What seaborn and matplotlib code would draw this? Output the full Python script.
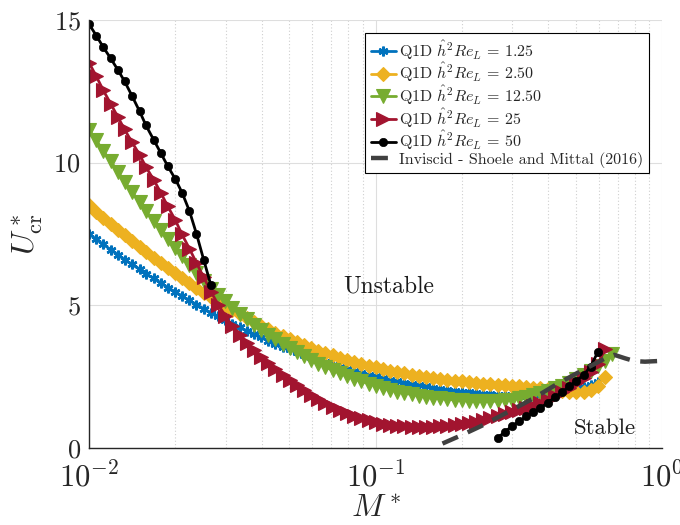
import matplotlib
matplotlib.use("Agg")
import matplotlib.pyplot as plt
import seaborn as sns
from matplotlib.ticker import LogLocator, FixedLocator

sns.set_theme(style="white")
plt.rcParams["font.family"] = ["cmr10", "DejaVu Serif"]
plt.rcParams["mathtext.fontset"] = "cm"
plt.rcParams["axes.formatter.use_mathtext"] = True

# mass ratio grid shared by the Q1D curves
m_star = [0.0100, 0.0106, 0.0112, 0.0119, 0.0126, 0.0133, 0.0141, 0.0150, 0.0158, 0.0168,
          0.0178, 0.0188, 0.0200, 0.0211, 0.0224, 0.0237, 0.0251, 0.0266, 0.0282, 0.0299,
          0.0316, 0.0335, 0.0355, 0.0376, 0.0398, 0.0422, 0.0447, 0.0473, 0.0501, 0.0531,
          0.0562, 0.0596, 0.0631, 0.0668, 0.0708, 0.0750, 0.0794, 0.0841, 0.0891, 0.0944,
          0.1000, 0.1059, 0.1122, 0.1189, 0.1259, 0.1334, 0.1413, 0.1496, 0.1585, 0.1679,
          0.1778, 0.1884, 0.1995, 0.2113, 0.2239, 0.2371, 0.2512, 0.2661, 0.2818, 0.2985,
          0.3162, 0.3350, 0.3548, 0.3758, 0.3981, 0.4217, 0.4467, 0.4732, 0.5012, 0.5309,
          0.5623, 0.5957, 0.6310, 0.6683]

u_125 = [7.50, 7.31, 7.13, 6.95, 6.77, 6.60, 6.43, 6.26, 6.10, 5.94,
         5.78, 5.62, 5.47, 5.32, 5.17, 5.02, 4.88, 4.74, 4.61, 4.48,
         4.35, 4.22, 4.10, 3.98, 3.87, 3.76, 3.65, 3.55, 3.45, 3.35,
         3.26, 3.17, 3.08, 3.00, 2.92, 2.84, 2.77, 2.70, 2.63, 2.57,
         2.51, 2.45, 2.39, 2.34, 2.29, 2.24, 2.19, 2.15, 2.11, 2.07,
         2.03, 2.00, 1.97, 1.94, 1.91, 1.89, 1.87, 1.85, 1.84, 1.83,
         1.83, 1.83, 1.84, 1.86, 1.88, 1.91, 1.95, 2.00, 2.06, 2.13,
         2.21, 2.30]

u_250 = [8.50, 8.28, 8.07, 7.86, 7.65, 7.45, 7.25, 7.05, 6.86, 6.67,
         6.48, 6.30, 6.12, 5.94, 5.77, 5.60, 5.44, 5.28, 5.12, 4.97,
         4.82, 4.68, 4.54, 4.41, 4.28, 4.16, 4.04, 3.92, 3.81, 3.70,
         3.60, 3.50, 3.41, 3.32, 3.24, 3.16, 3.08, 3.01, 2.94, 2.88,
         2.82, 2.76, 2.71, 2.66, 2.61, 2.57, 2.53, 2.49, 2.45, 2.42,
         2.39, 2.36, 2.33, 2.30, 2.27, 2.25, 2.23, 2.21, 2.19, 2.17,
         2.15, 2.13, 2.11, 2.08, 2.05, 2.02, 1.99, 1.96, 1.94, 1.95,
         2.02, 2.18, 2.48]

u_1250 = [11.15, 10.78, 10.41, 10.05, 9.68, 9.32, 8.97, 8.63, 8.29, 7.96,
          7.64, 7.32, 7.01, 6.71, 6.41, 6.12, 5.84, 5.57, 5.36, 5.13,
          4.91, 4.70, 4.50, 4.31, 4.13, 3.96, 3.80, 3.64, 3.49, 3.35,
          3.21, 3.08, 2.95, 2.83, 2.72, 2.61, 2.51, 2.42, 2.33, 2.25,
          2.17, 2.10, 2.03, 1.97, 1.92, 1.87, 1.83, 1.79, 1.76, 1.73,
          1.70, 1.68, 1.66, 1.65, 1.64, 1.63, 1.63, 1.64, 1.66, 1.69,
          1.73, 1.78, 1.84, 1.91, 1.99, 2.08, 2.18, 2.29, 2.41, 2.55,
          2.70, 2.87, 3.06, 3.30]

u_25 = [13.50, 13.02, 12.54, 12.06, 11.60, 11.16, 10.72, 10.28, 9.84, 9.40,
        8.94, 8.47, 7.98, 7.48, 6.98, 6.48, 5.98, 5.48, 5.02, 4.62,
        4.28, 3.97, 3.69, 3.43, 3.19, 2.97, 2.76, 2.56, 2.37, 2.19,
        2.02, 1.86, 1.71, 1.57, 1.44, 1.32, 1.21, 1.11, 1.03, 0.96,
        0.90, 0.85, 0.81, 0.78, 0.76, 0.74, 0.73, 0.73, 0.74, 0.75,
        0.77, 0.80, 0.83, 0.87, 0.92, 0.98, 1.04, 1.11, 1.17, 1.24,
        1.31, 1.39, 1.48, 1.58, 1.69, 1.81, 1.95, 2.10, 2.26, 2.44,
        2.66, 2.95, 3.45]

# Re=50 has two branches
u_50_low_m = [14.85, 14.45, 14.05, 13.65, 13.25, 12.85, 12.35, 11.80, 11.30, 10.80,
              10.33, 9.88, 9.42, 8.95, 8.30, 7.50, 6.60, 5.71]
m_50_high = m_star[57:72]
u_50_high_m = [0.35, 0.55, 0.76, 0.93, 1.10, 1.25, 1.40, 1.58, 1.77, 1.95,
               2.15, 2.35, 2.55, 2.85, 3.36]

# inviscid reference curve
m_inv = [0.171, 0.20, 0.234, 0.28, 0.35, 0.42, 0.50, 0.575, 0.63, 0.68, 0.74, 0.80, 0.87, 1.0]
u_inv = [0.15, 0.45, 0.77, 1.18, 1.70, 2.18, 2.60, 2.92, 3.13, 3.26, 3.14, 3.04, 3.02, 3.05]

labels = [r"Q1D $\hat{h}^2Re_L\,=\,1.25$", r"Q1D $\hat{h}^2Re_L\,=\,2.50$",
          r"Q1D $\hat{h}^2Re_L\,=\,12.50$", r"Q1D $\hat{h}^2Re_L\,=\,25$",
          r"Q1D $\hat{h}^2Re_L\,=\,50$"]

fig, ax = plt.subplots(figsize=(6.8, 5.25), dpi=100)
fig.subplots_adjust(left=0.131, right=0.974, bottom=0.147, top=0.962)

common = dict(ax=ax, sort=False, estimator=None, lw=2)
sns.lineplot(x=m_star[:len(u_125)], y=u_125, color="#0072BD", marker=(6, 2, 0),
             markersize=7, mew=1.8, mec="#0072BD", label=labels[0], **common)
sns.lineplot(x=m_star[:len(u_250)], y=u_250, color="#EDB120", marker="D",
             markersize=7.5, mew=0.8, mec="#EDB120", label=labels[1], **common)
sns.lineplot(x=m_star[:len(u_1250)], y=u_1250, color="#77AC30", marker="v",
             markersize=9.5, mew=0.8, mec="#77AC30", label=labels[2], **common)
sns.lineplot(x=m_star[:len(u_25)], y=u_25, color="#A2142F", marker=">",
             markersize=9.5, mew=0.8, mec="#A2142F", label=labels[3], **common)
sns.lineplot(x=m_star[:len(u_50_low_m)], y=u_50_low_m, color="black", marker="o",
             markersize=6, mew=0.5, mec="black", label=labels[4], **common)
sns.lineplot(x=m_50_high, y=u_50_high_m, color="black", marker="o",
             markersize=6, mew=0.5, mec="black", label="_nolegend_", **common)
sns.lineplot(x=m_inv, y=u_inv, ax=ax, sort=False, estimator=None, color="#404040",
             lw=3.2, dashes=False, label="Inviscid - Shoele and Mittal (2016)")
ax.lines[-1].set_dashes((3.8, 2.4))
ax.lines[-1].set_zorder(5)

ax.set_xscale("log")
ax.set_xlim(0.01, 1.0)
ax.set_ylim(0, 15)
ax.xaxis.set_major_locator(FixedLocator([0.01, 0.1, 1.0]))
ax.xaxis.set_minor_locator(LogLocator(base=10, subs=range(2, 10)))
ax.set_yticks([0, 5, 10, 15])

ax.grid(True, which="major", color="#dedede", lw=0.8, ls="-")
ax.grid(True, which="minor", axis="x", color="#cfcfcf", lw=0.8, ls=(0, (1, 2)))
ax.set_axisbelow(True)
for side in ["top", "right"]:
    ax.spines[side].set_visible(False)
for side in ["left", "bottom"]:
    ax.spines[side].set_color("#262626")
    ax.spines[side].set_linewidth(1.0)
ax.tick_params(which="both", direction="in", colors="#262626", top=False, right=False)
ax.tick_params(which="major", length=5, width=0.9)
ax.tick_params(which="minor", length=3, width=0.7)
ax.tick_params(axis="x", labelsize=22, pad=10)
ax.tick_params(axis="y", labelsize=19, pad=6)
for t in ax.get_yticklabels():
    t.set_verticalalignment("center_baseline")

ax.set_xlabel(r"$M^*$", fontsize=23, labelpad=2)
ax.set_ylabel(r"$U^*_{\mathrm{cr}}$", fontsize=23, labelpad=6)

ax.text(0.111, 5.67, "Unstable", fontsize=17, ha="center", va="center", color="#1a1a1a")
ax.text(0.632, 0.70, "Stable", fontsize=16.5, ha="center", va="center", color="#1a1a1a")

handles, labs = ax.get_legend_handles_labels()
leg = ax.legend(handles, labs, loc="upper right", bbox_to_anchor=(0.977, 0.970),
                borderaxespad=0, fontsize=11.5, frameon=True, fancybox=False,
                edgecolor="black", framealpha=1, handlelength=1.6,
                handletextpad=0.2, labelspacing=-0.05, borderpad=0.35, numpoints=1)
leg.get_frame().set_linewidth(0.8)

fig.savefig("out.png", dpi=100)
